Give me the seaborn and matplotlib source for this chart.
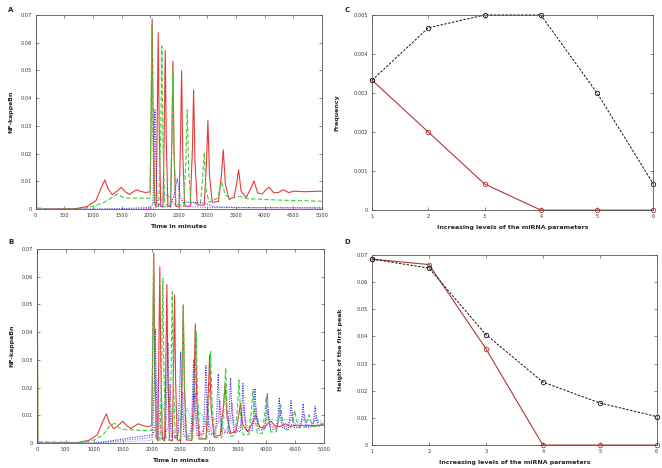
import numpy as np
import pandas as pd
import matplotlib
matplotlib.use("Agg")
import matplotlib.pyplot as plt
from matplotlib.ticker import FuncFormatter
import seaborn as sns

# -------------------------------
# Data
# -------------------------------
# panel A / B : NF-kappaBn time courses (time in minutes, value)
red_t = [0, 15, 700, 900, 1050, 1150, 1208, 1260, 1340, 1420, 1495, 1570, 1640, 1700, 1765, 1840, 1920, 2000,
         2018, 2036, 2054, 2080, 2105, 2123, 2141, 2159, 2185, 2225, 2246, 2264, 2282, 2310, 2358, 2380, 2398,
         2417, 2445, 2505, 2530, 2550, 2570, 2605, 2700, 2738, 2760, 2784, 2825, 2945, 2983, 3010, 3038, 3085,
         3195, 3245, 3279, 3315, 3380, 3470, 3510, 3547, 3590, 3680, 3760, 3816, 3880, 3960, 4030, 4084, 4160,
         4240, 4329, 4420, 4520, 4700, 5000]
red_v = [0.07, 0.0, 0.0002, 0.001, 0.003, 0.008, 0.0106, 0.0075, 0.0052, 0.0065, 0.0079, 0.0062, 0.0053, 0.0062,
         0.007, 0.0064, 0.006, 0.0063,
         0.034, 0.0685, 0.03, 0.002, 0.0008, 0.03, 0.0636, 0.028, 0.0015, 0.0008, 0.028, 0.0572, 0.025, 0.0012,
         0.0008, 0.026, 0.0534, 0.022, 0.0012, 0.0008, 0.024, 0.0499, 0.02, 0.0012, 0.001, 0.021, 0.043, 0.017,
         0.0015, 0.0015, 0.016, 0.0319, 0.012, 0.0025, 0.0028, 0.012, 0.0214, 0.009, 0.0035, 0.0045, 0.009,
         0.0142, 0.0065, 0.0042, 0.0075, 0.0102, 0.0058, 0.0055, 0.0072, 0.0079, 0.0059, 0.006, 0.007, 0.006,
         0.0065, 0.0063, 0.0065]

green_a_t = [0, 15, 300, 800, 1000, 1200, 1350, 1430, 1500, 1600, 1800, 2000, 2013, 2030, 2048, 2075, 2150,
             2187, 2205, 2223, 2255, 2350, 2380, 2398, 2418, 2450, 2590, 2625, 2649, 2675, 2715, 2880, 2918,
             2946, 2978, 3030, 3180, 3250, 3320, 3420, 3570, 3700, 4000, 4500, 5000]
green_a_v = [0.07, 0.0005, 0.0, 0.0002, 0.001, 0.0025, 0.0045, 0.0055, 0.0045, 0.004, 0.004, 0.004, 0.033,
             0.0664, 0.028, 0.002, 0.001, 0.029, 0.0588, 0.025, 0.002, 0.001, 0.025, 0.0496, 0.02, 0.002, 0.0012,
             0.018, 0.0358, 0.013, 0.002, 0.002, 0.011, 0.0204, 0.007, 0.0025, 0.004, 0.0096, 0.005, 0.004,
             0.0046, 0.0038, 0.0035, 0.0031, 0.0029]

blue_a_t = [0, 1000, 1500, 2000, 2050, 2065, 2083, 2101, 2125, 2200, 2350, 2420, 2474, 2520, 2570, 2700, 2900,
            3000, 3100, 3500, 5000]
blue_a_v = [0.0, 0.0, 0.0002, 0.0006, 0.002, 0.018, 0.0358, 0.016, 0.002, 0.0008, 0.001, 0.005, 0.011, 0.005,
            0.0025, 0.0025, 0.0024, 0.0018, 0.0009, 0.0006, 0.0005]

magenta_a_t = [0, 1800, 2100, 2170, 2230, 2287, 2350, 2420, 2480, 2600, 3000, 5000]
magenta_a_v = [0.0, 0.0, 0.0005, 0.002, 0.0045, 0.0052, 0.0042, 0.0018, 0.0012, 0.001, 0.0006, 0.0004]

green_b_t = [0, 15, 800, 1000, 1150, 1270, 1350, 1430, 1500, 1650, 1800, 2000,
             2013, 2030, 2048, 2075, 2145, 2176, 2194, 2212, 2245, 2305, 2339, 2357, 2376, 2410,
             2495, 2531, 2550, 2570, 2610, 2715, 2755, 2776, 2798, 2840, 2960, 3004, 3027, 3051, 3095,
             3220, 3264, 3289, 3315, 3360, 3455, 3497, 3522, 3548, 3595, 3695, 3740, 3766, 3793, 3845,
             3930, 3973, 3999, 4026, 4080, 4175, 4222, 4249, 4277, 4330, 4420, 4467, 4494, 4522, 4575,
             4670, 4717, 4744, 4772, 4825, 4930, 5000]
green_b_v = [0.07, 0.0005, 0.0002, 0.0012, 0.003, 0.0062, 0.0072, 0.0055, 0.005, 0.0048, 0.0046, 0.0046,
             0.033, 0.066, 0.028, 0.002, 0.001, 0.03, 0.0594, 0.026, 0.002, 0.001, 0.027, 0.0546, 0.023, 0.002,
             0.0012, 0.025, 0.0495, 0.021, 0.002, 0.0015, 0.021, 0.0402, 0.018, 0.002, 0.0015, 0.018, 0.033,
             0.015, 0.002, 0.002, 0.015, 0.0272, 0.013, 0.0025, 0.0028, 0.013, 0.0228, 0.011, 0.003, 0.0032,
             0.012, 0.0194, 0.01, 0.0035, 0.0036, 0.011, 0.0168, 0.0095, 0.004, 0.0042, 0.0095, 0.0138, 0.009,
             0.0048, 0.005, 0.009, 0.0118, 0.0085, 0.0055, 0.0056, 0.0085, 0.0102, 0.008, 0.006, 0.0062, 0.0075]

blue_b_t = [0, 1000, 2000,
            2016, 2041, 2061, 2083, 2115, 2237, 2262, 2282, 2304, 2340, 2458, 2483, 2503, 2525, 2562,
            2685, 2710, 2730, 2752, 2790, 2900, 2925, 2945, 2968, 3005, 3115, 3140, 3160, 3183, 3220,
            3330, 3355, 3375, 3398, 3435, 3545, 3570, 3590, 3613, 3650, 3755, 3780, 3800, 3823, 3860,
            3970, 3995, 4015, 4038, 4075, 4180, 4205, 4225, 4248, 4285, 4385, 4410, 4430, 4453, 4490,
            4595, 4620, 4640, 4663, 4700, 4805, 4830, 4850, 4873, 4910, 5000]
blue_b_v = [0.0, 0.0, 0.003,
            0.004, 0.02, 0.041, 0.018, 0.002, 0.0018, 0.018, 0.036, 0.016, 0.0022, 0.0022, 0.017, 0.033,
            0.015, 0.0025, 0.0025, 0.016, 0.03, 0.014, 0.0028, 0.003, 0.015, 0.028, 0.013, 0.0032, 0.0033,
            0.014, 0.025, 0.012, 0.0036, 0.0038, 0.013, 0.0235, 0.012, 0.004, 0.0042, 0.012, 0.0215, 0.011,
            0.0044, 0.0045, 0.011, 0.0198, 0.01, 0.0047, 0.0048, 0.0105, 0.018, 0.0098, 0.005, 0.0051, 0.01,
            0.0165, 0.0095, 0.0053, 0.0054, 0.0095, 0.0153, 0.009, 0.0056, 0.0057, 0.009, 0.0143, 0.0088,
            0.0058, 0.0059, 0.0088, 0.0133, 0.0085, 0.006, 0.007]

magenta_b_t = [0, 1000, 2000, 2080, 2110, 2140, 2200, 2290, 2320, 2350, 2410, 2505, 2540, 2570, 2630, 2725,
               2760, 2790, 2850, 2935, 2970, 3000, 3060, 3155, 3190, 3220, 3280, 3365, 3400, 3430, 3490, 3575,
               3610, 3640, 3700, 3785, 3820, 3850, 3910, 3995, 4030, 4060, 4120, 4205, 4240, 4270, 4330, 4415,
               4450, 4480, 4540, 4625, 4660, 4690, 4750, 4835, 4870, 4900, 5000]
magenta_b_v = [0.0, 0.0, 0.002, 0.006, 0.023, 0.006, 0.0015, 0.006, 0.021, 0.006, 0.002, 0.006, 0.0185, 0.006,
               0.0025, 0.006, 0.018, 0.006, 0.003, 0.0065, 0.017, 0.0065, 0.0035, 0.007, 0.0155, 0.007, 0.004,
               0.007, 0.0145, 0.007, 0.0045, 0.0072, 0.0135, 0.0072, 0.005, 0.0074, 0.0128, 0.0074, 0.0052,
               0.0075, 0.012, 0.0075, 0.0055, 0.0076, 0.0115, 0.0076, 0.0058, 0.0077, 0.011, 0.0077, 0.006,
               0.0078, 0.0105, 0.0078, 0.0062, 0.0078, 0.01, 0.0078, 0.0068]

cyan_b_t = [0, 1000, 2000, 2050, 2120, 2170, 2250, 2320, 2400, 2480, 2560, 2620, 2700, 2780, 2850, 2930, 3050,
            3150, 3280, 3400, 3520, 3650, 3760, 3900, 4050, 4200, 4350, 4500, 4700, 5000]
cyan_b_v = [0.0, 0.0, 0.001, 0.006, 0.013, 0.0148, 0.009, 0.0095, 0.0138, 0.008, 0.0095, 0.0125, 0.0078, 0.009,
            0.011, 0.0075, 0.01, 0.0075, 0.0095, 0.0075, 0.009, 0.0078, 0.0088, 0.008, 0.0088, 0.008, 0.0086,
            0.008, 0.0084, 0.008]

# panel C / D : summary vs miRNA parameter level
levels = [1, 2, 3, 4, 5, 6]
freq_black = [0.00333, 0.00467, 0.005, 0.005, 0.003, 0.00067]
freq_red = [0.00333, 0.002, 0.00067, 0.0, 0.0, 0.0]
height_black = [0.0685, 0.0652, 0.0407, 0.0232, 0.0155, 0.0105]
height_red = [0.0685, 0.0665, 0.0355, 0.0, 0.0, 0.0]

# -------------------------------
# Figure setup
# -------------------------------
sns.set_theme(style="ticks")
plt.rcParams["font.family"] = ["DejaVu Sans"]

RED, GREEN, BLUE, MAGENTA, CYAN = "#e8393b", "#3ad23a", "#3b3bdc", "#d04cd8", "#3fd8d8"
DARKRED = "#b03636"

fig = plt.figure(figsize=(6.62, 4.68), dpi=100)
ax_a = fig.add_axes([0.054, 0.553, 0.432, 0.415])
ax_b = fig.add_axes([0.056, 0.053, 0.433, 0.415])
ax_c = fig.add_axes([0.562, 0.551, 0.425, 0.417])
ax_d = fig.add_axes([0.562, 0.049, 0.430, 0.406])


def fmt(v, pos):
    return "0" if abs(v) < 1e-12 else "%g" % v


def style(ax, xlabel, ylabel, ypad):
    ax.set_xlabel(xlabel, fontsize=4.5, fontweight="bold", labelpad=4)
    ax.set_ylabel(ylabel, fontsize=4.5, fontweight="bold", labelpad=ypad)
    ax.tick_params(direction="in", top=True, right=True, labelsize=3.6, length=2.5,
                   width=0.4, pad=3, colors="#333333")
    ax.yaxis.set_major_formatter(FuncFormatter(fmt))
    for s in ax.spines.values():
        s.set_linewidth(0.6)
        s.set_color("#555555")


def line(ax, t, v, color, ls, lw=0.8):
    d = pd.DataFrame({"t": t, "v": v})
    sns.lineplot(data=d, x="t", y="v", ax=ax, color=color, linestyle=ls, linewidth=lw,
                 estimator=None, sort=False)


# panel A
line(ax_a, red_t, red_v, RED, "-", 0.8)
line(ax_a, green_a_t, green_a_v, GREEN, (0, (4, 2)))
line(ax_a, blue_a_t, blue_a_v, BLUE, (0, (1, 1.2)))
line(ax_a, magenta_a_t, magenta_a_v, MAGENTA, (0, (1, 1.2)))

# panel B
line(ax_b, red_t, red_v, RED, "-", 0.8)
line(ax_b, green_b_t, green_b_v, GREEN, (0, (4, 2)))
line(ax_b, cyan_b_t, cyan_b_v, CYAN, (0, (1, 1.2)))
line(ax_b, magenta_b_t, magenta_b_v, MAGENTA, (0, (1, 1.2)))
line(ax_b, blue_b_t, blue_b_v, BLUE, (0, (1, 1.2)))

for ax in (ax_a, ax_b):
    ax.set_xlim(0, 5000)
    ax.set_ylim(0, 0.07)
    ax.set_xticks(np.arange(0, 5001, 500))
    ax.set_yticks(np.arange(0, 0.0701, 0.01))
    style(ax, "Time in minutes", "NF-kappaBn", 5)

# panels C and D
for ax, yb, yr, top, step, ylab in [
    (ax_c, freq_black, freq_red, 0.005, 0.001, "Frequency"),
    (ax_d, height_black, height_red, 0.07, 0.01, "Height of the first peak"),
]:
    d = pd.DataFrame({"x": levels, "black": yb, "red": yr})
    sns.lineplot(data=d, x="x", y="red", ax=ax, color=DARKRED, linewidth=0.8, marker="o",
                 markersize=3.2, markerfacecolor="none", markeredgecolor=DARKRED,
                 markeredgewidth=0.6, clip_on=False)
    sns.lineplot(data=d, x="x", y="black", ax=ax, color="#111111", linewidth=0.7, linestyle=(0, (2.5, 1.5)),
                 marker="o", markersize=3.2, markerfacecolor="none", markeredgecolor="#111111",
                 markeredgewidth=0.6, clip_on=False)
    ax.set_xlim(1, 6)
    ax.set_ylim(0, top)
    ax.set_xticks(levels)
    ax.set_yticks(np.arange(0, top + step / 2, step))
    style(ax, "Increasing levels of the miRNA parameters", ylab, 10)

# panel letters
for lab, x, y in [("A", 0.012, 0.985), ("C", 0.52, 0.985), ("B", 0.012, 0.49), ("D", 0.52, 0.49)]:
    fig.text(x, y, lab, fontsize=5, fontweight="bold", ha="left", va="top")

fig.savefig("out.png", dpi=100)
